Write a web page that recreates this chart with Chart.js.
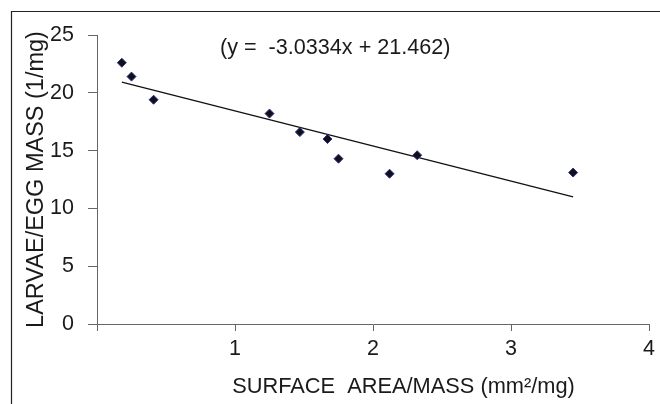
<!DOCTYPE html>
<html>
<head>
<meta charset="utf-8">
<script src="https://cdn.jsdelivr.net/npm/chart.js@4"></script>
<style>
    html, body { margin: 0; padding: 0; background: #fff; }
    #wrap { width: 660px; height: 404px; position: relative; }
</style>
</head>
<body>
<div id="wrap"><canvas id="scatterChart"></canvas></div>
<script>
// values
const surfaceArea = [0.18, 0.25, 0.41, 1.25, 1.47, 1.67, 1.75, 2.12, 2.32, 3.45];
const larvaePerMass = [22.6, 21.4, 19.4, 18.2, 16.6, 16.0, 14.3, 13.0, 14.6, 13.1];

// fitted line ends (y = -3.0334x + 21.462)
const trendX = [0.18, 3.45];
const trendY = [20.92, 11.0];

const yTicks = [0, 5, 10, 15, 20, 25];
const xTicks = [0, 1, 2, 3, 4];

const equationText = '(y =  -3.0334x + 21.462)';
const xTitle = 'SURFACE  AREA/MASS (mm\u00B2/mg)';
const yTitle = 'LARVAE/EGG MASS (1/mg)';

const FONT = '"Liberation Sans", Arial, sans-serif';

window.addEventListener('load', initialize);

function initialize() {
    const points = surfaceArea.map((x, i) => ({ x: x, y: larvaePerMass[i] }));
    const trend = trendX.map((x, i) => ({ x: x, y: trendY[i] }));

    // frame and free text
    const decorations = {
        id: 'decorations',
        beforeDraw(chart) {
            const ctx = chart.ctx;
            ctx.save();
            ctx.strokeStyle = '#222';
            ctx.lineWidth = 1.2;
            ctx.beginPath();
            ctx.moveTo(11.5, 404);
            ctx.lineTo(11.5, 11.5);
            ctx.lineTo(660, 11.5);
            ctx.stroke();
            ctx.restore();
        },
        afterDraw(chart) {
            const ctx = chart.ctx;
            ctx.save();
            ctx.fillStyle = '#1a1a1a';
            ctx.font = '21.6px ' + FONT;
            ctx.textBaseline = 'alphabetic';
            ctx.textAlign = 'left';
            ctx.fillText(equationText, 220, 54);
            ctx.font = '21.8px ' + FONT;
            ctx.textAlign = 'center';
            ctx.fillText(xTitle, 403.5, 393);
            ctx.restore();
        }
    };

    const ctx = document.getElementById('scatterChart').getContext('2d');
    new Chart(ctx, {
        type: 'scatter',
        data: {
            datasets: [{
                label: 'Larvae/egg mass',
                data: points,
                pointStyle: 'rectRot',
                pointRadius: 4.5,
                pointHoverRadius: 4.5,
                backgroundColor: '#111',
                borderColor: '#2b2b9c',
                borderWidth: 1
            }, {
                type: 'line',
                label: 'Trend',
                data: trend,
                borderColor: '#111',
                borderWidth: 1.3,
                pointRadius: 0,
                fill: false
            }]
        },
        options: {
            responsive: true,
            maintainAspectRatio: false,
            animation: false,
            layout: { padding: { left: 0, top: 35, right: 7, bottom: 0 } },
            plugins: {
                legend: { display: false },
                tooltip: { enabled: false }
            },
            scales: {
                x: {
                    type: 'linear',
                    min: 0,
                    max: 4,
                    afterBuildTicks: s => { s.ticks = xTicks.map(v => ({ value: v })); },
                    afterFit: s => { s.height = 80; },
                    border: { color: '#666', width: 1 },
                    grid: { drawOnChartArea: false, drawTicks: true, tickLength: 7, color: '#666' },
                    ticks: {
                        padding: 5,
                        color: '#1a1a1a',
                        font: { family: FONT, size: 21.5 },
                        callback: v => (v === 0 ? '' : String(v))
                    }
                },
                y: {
                    type: 'linear',
                    min: 0,
                    max: 25,
                    afterBuildTicks: s => { s.ticks = yTicks.map(v => ({ value: v })); },
                    afterFit: s => { s.width = 97; },
                    border: { color: '#666', width: 1 },
                    grid: { drawOnChartArea: false, drawTicks: true, tickLength: 9, color: '#666' },
                    ticks: {
                        padding: 14,
                        color: '#1a1a1a',
                        font: { family: FONT, size: 21.5 }
                    },
                    title: {
                        display: true,
                        text: yTitle,
                        color: '#1a1a1a',
                        font: { family: FONT, size: 23.5 },
                        padding: { top: 22, bottom: 0 }
                    }
                }
            }
        },
        plugins: [decorations]
    });
}
</script>
</body>
</html>
